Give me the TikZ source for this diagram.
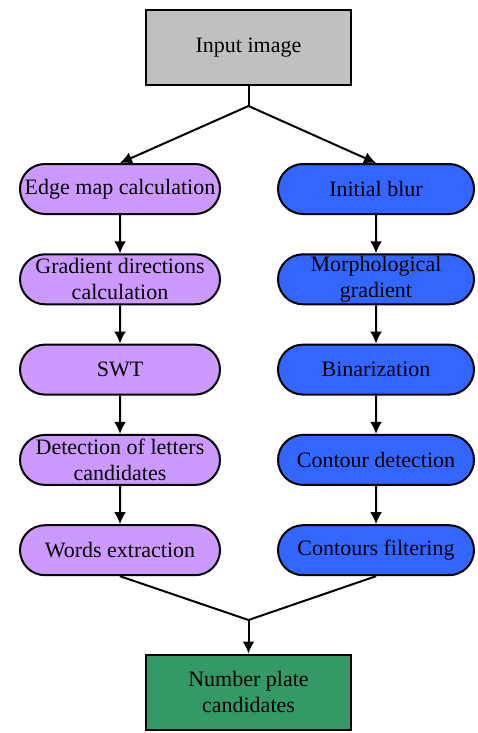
\documentclass[tikz,border=0pt]{standalone}
\usepackage{fontspec}
\setmainfont{Liberation Serif}
\usepackage{xcolor}
\usetikzlibrary{shapes, arrows, calc, positioning}
\usetikzlibrary{arrows.meta}

\definecolor{boxgrey}{HTML}{C0C0C0}
\definecolor{lilac}{HTML}{CC99FF}
\definecolor{royal}{HTML}{3366FF}
\definecolor{plategreen}{HTML}{339966}

\begin{document}
\begin{tikzpicture}[
  x=1pt, y=-1pt,
  node distance=38.3pt,
  every node/.style={font=\rmfamily\fontsize{22}{26}\selectfont, align=center},
  flow/.style={draw, -{Latex[length=12pt, width=12pt]}, line width=2pt},
  joint/.style={draw, line width=2pt},
  io/.style={rectangle, draw, line width=2pt, minimum width=205pt, minimum height=75pt, inner sep=2pt},
  pill/.style={rounded rectangle, draw, line width=2pt, minimum height=50pt, inner sep=2pt},
  swtpill/.style={pill, fill=lilac, minimum width=204pt},
  morphpill/.style={pill, fill=royal, minimum width=200pt}
]
\useasboundingbox (0,0) rectangle (477,733);

% source and result
\node[io, fill=boxgrey] (input) at (248.5,47.5) {Input image};
\node[io, fill=plategreen] (plates) at (248.5,692) {Number plate\\candidates};

% stroke width transform branch
\node[swtpill] (edges) at (120,189) {Edge map calculation};
\node[swtpill, below=of edges] (gradients) {Gradient directions\\calculation};
\node[swtpill, below=of gradients] (swt) {SWT};
\node[swtpill, below=of swt] (letters) {Detection of letters\\candidates};
\node[swtpill, below=of letters] (words) {Words extraction};

% morphology branch
\node[morphpill] (blur) at (376,189) {Initial blur};
\node[morphpill, below=of blur] (morph) {Morphological\\gradient};
\node[morphpill, below=of morph] (binar) {Binarization};
\node[morphpill, below=of binar] (contours) {Contour detection};
\node[morphpill, below=of contours] (filtering) {Contours filtering};

\coordinate (split) at (248.5,106);
\coordinate (merge) at (248.5,620);

\path[joint] (input) -- (split);
\path[flow] (split) -- (edges.north);
\path[flow] (split) -- (blur.north);

\path[flow] (edges) -- (gradients);
\path[flow] (gradients) -- (swt);
\path[flow] (swt) -- (letters);
\path[flow] (letters) -- (words);

\path[flow] (blur) -- (morph);
\path[flow] (morph) -- (binar);
\path[flow] (binar) -- (contours);
\path[flow] (contours) -- (filtering);

\path[joint] (words.south) -- (merge) -- (filtering.south);
\path[flow] (merge) -- (plates);

\end{tikzpicture}
\end{document}
